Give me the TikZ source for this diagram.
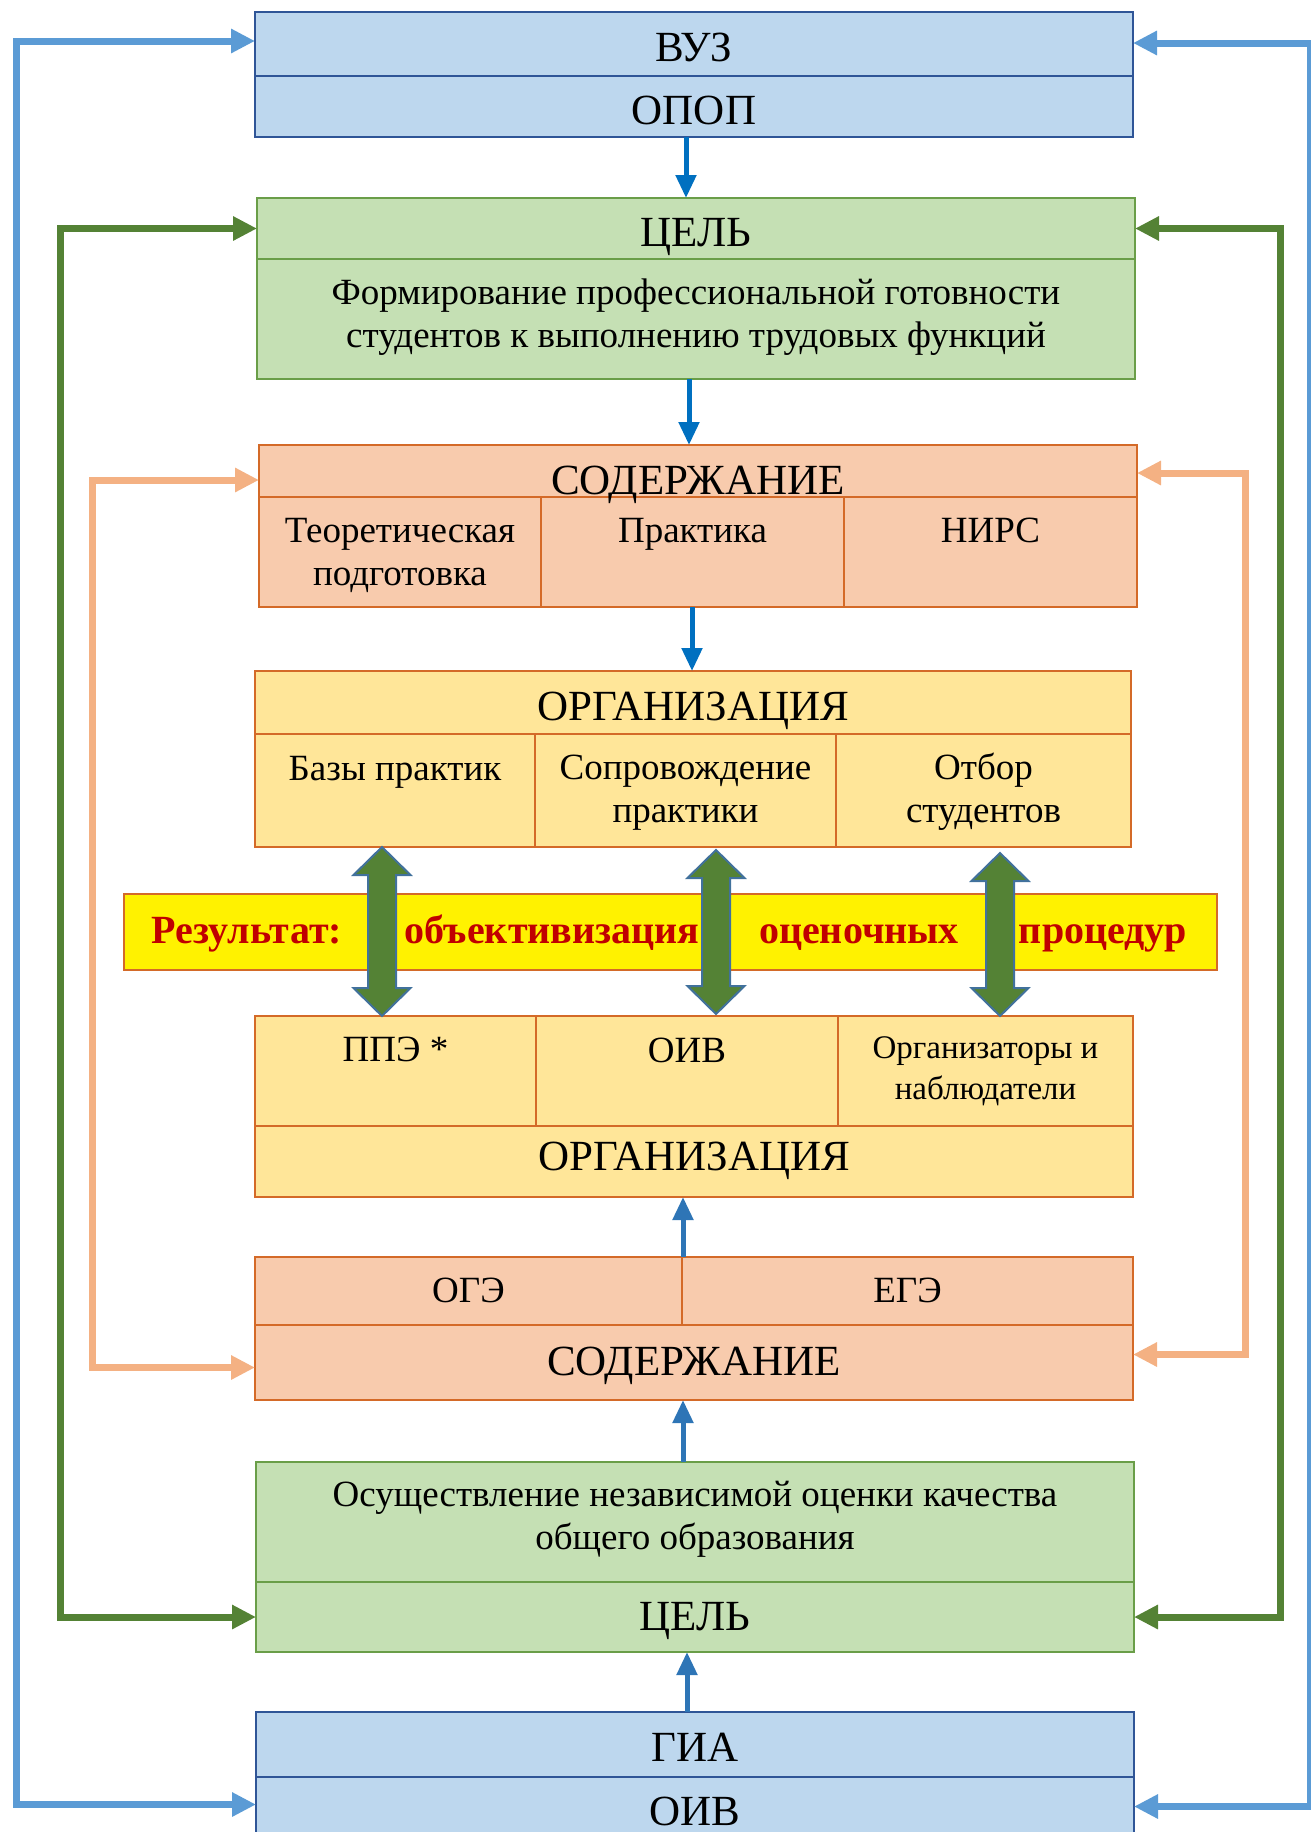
\documentclass[tikz,border=0pt]{standalone}
\usepackage{fontspec}
\setmainfont{Liberation Serif}
\usetikzlibrary{fit,calc,arrows.meta}
\definecolor{cBlueFill}{HTML}{BDD7EE}
\definecolor{cBlueLine}{HTML}{2F5597}
\definecolor{cGreenFill}{HTML}{C5E0B4}
\definecolor{cGreenLine}{HTML}{6A9E48}
\definecolor{cPeachFill}{HTML}{F8CBAD}
\definecolor{cOrangeLine}{HTML}{D46A28}
\definecolor{cYellowFill}{HTML}{FFE699}
\definecolor{cResRed}{HTML}{C00000}
\definecolor{cFbBlue}{HTML}{5B9BD5}
\definecolor{cFbGreen}{HTML}{548235}
\definecolor{cFbPeach}{HTML}{F4B183}
\definecolor{cConnDark}{HTML}{0070C0}
\definecolor{cConnLight}{HTML}{2E75B6}
\definecolor{cDblLine}{HTML}{41719C}
\newcommand\mydblarrow[2]{%
  \draw[dblarr] (#1) -- ($(#1)+(28.5,28)$) -- ($(#1)+(14,28)$) -- ($(#2)+(14,-28)$) -- ($(#2)+(28.5,-28)$) -- (#2) -- ($(#2)+(-28.5,-28)$) -- ($(#2)+(-14,-28)$) -- ($(#1)+(-14,28)$) -- ($(#1)+(-28.5,28)$) -- cycle;}
\begin{document}
\begin{tikzpicture}[x=1pt,y=-1pt,
  bx/.style={inner sep=0pt, outer sep=0pt, line width=1.5pt},
  bluebox/.style={bx, draw=cBlueLine, fill=cBlueFill},
  greenbox/.style={bx, draw=cGreenLine, fill=cGreenFill},
  peachbox/.style={bx, draw=cOrangeLine, fill=cPeachFill},
  yellowbox/.style={bx, draw=cOrangeLine, fill=cYellowFill},
  resbox/.style={bx, draw=cOrangeLine, fill=yellow},
  hd/.style={font=\fontsize{43}{50}\selectfont, anchor=base, inner sep=0pt},
  bd/.style={font=\fontsize{37}{43}\selectfont, anchor=base, inner sep=0pt, align=center},
  sm/.style={font=\fontsize{33}{41}\selectfont, anchor=base, inner sep=0pt, align=center},
  res/.style={font=\bfseries\fontsize{40}{48}\selectfont, text=cResRed, anchor=base, inner sep=0pt},
  fb/.style={line width=7pt, line join=miter, {Triangle[length=24pt,width=23pt]}-{Triangle[length=24pt,width=23pt]}},
  fbB/.style={fb, draw=cFbBlue},
  fbG/.style={fb, draw=cFbGreen},
  fbP/.style={fb, draw=cFbPeach},
  connD/.style={line width=5pt, draw=cConnDark, -{Triangle[length=23pt,width=20pt]}},
  connL/.style={line width=5pt, draw=cConnLight, -{Triangle[length=23pt,width=20pt]}},
  dblarr/.style={fill=cFbGreen, draw=cDblLine, line width=2pt, line join=miter}
]
\useasboundingbox (0,0) rectangle (1311,1832);

% ---- ВУЗ / ОПОП
\node[bluebox, fit={(255,12) (1133,76)}] (vuz) {};
\node[bluebox, fit={(255,76) (1133,137)}] (opop) {};
\node[hd] (tvuz) at (vuz.center |- 0,61) {ВУЗ};
\node[hd] (topop) at (opop.center |- 0,124) {ОПОП};

% ---- ЦЕЛЬ (top)
\node[greenbox, fit={(257,198) (1135,259)}] (celh) {};
\node[greenbox, fit={(257,259) (1135,379)}] (celt) {};
\node[hd] (tcelh) at (celh.center |- 0,246) {ЦЕЛЬ};
\node[bd] (tcelt) at (celt.center |- 0,347) {Формирование профессиональной готовности\\студентов к выполнению трудовых функций};

% ---- СОДЕРЖАНИЕ (top)
\node[peachbox, fit={(259,445) (1137,497)}] (soh) {};
\node[peachbox, fit={(259,497) (541,607)}] (teor) {};
\node[peachbox, fit={(541,497) (844,607)}] (prak) {};
\node[peachbox, fit={(844,497) (1137,607)}] (nirs) {};
\node[hd] (tsoh) at (soh.center |- 0,494) {СОДЕРЖАНИЕ};
\node[bd] (tteor) at (teor.center |- 0,585) {Теоретическая\\подготовка};
\node[bd] (tprak) at (prak.center |- 0,542) {Практика};
\node[bd] (tnirs) at (nirs.center |- 0,542) {НИРС};

% ---- ОРГАНИЗАЦИЯ (top)
\node[yellowbox, fit={(255,671) (1131,734)}] (orgh) {};
\node[yellowbox, fit={(255,734) (535,847)}] (baz) {};
\node[yellowbox, fit={(535,734) (836,847)}] (sopr) {};
\node[yellowbox, fit={(836,734) (1131,847)}] (otb) {};
\node[hd] (torgh) at (orgh.center |- 0,720) {ОРГАНИЗАЦИЯ};
\node[bd] (tbaz) at (baz.center |- 0,780) {Базы практик};
\node[bd] (tsopr) at (sopr.center |- 0,822) {Сопровождение\\практики};
\node[bd] (totb) at (otb.center |- 0,822) {Отбор\\студентов};

% ---- Result bar
\node[resbox, fit={(124,894) (1217,970)}] (resbar) {};
\node[res] (r1) at (247,943) {Результат:};
\node[res] (r2) at (552,943) {объективизация};
\node[res] (r3) at (859,943) {оценочных};
\node[res] (r4) at (1103,943) {процедур};

% ---- ОРГАНИЗАЦИЯ (bottom)
\node[yellowbox, fit={(255,1016) (536,1126)}] (ppe) {};
\node[yellowbox, fit={(536,1016) (838,1126)}] (oivc) {};
\node[yellowbox, fit={(838,1016) (1133,1126)}] (orgn) {};
\node[yellowbox, fit={(255,1126) (1133,1197)}] (orgh2) {};
\node[bd] (tppe) at (ppe.center |- 0,1061) {ППЭ *};
\node[bd] (toivc) at (oivc.center |- 0,1062) {ОИВ};
\node[sm] (torgn) at (orgn.center |- 0,1099) {Организаторы и\\наблюдатели};
\node[hd] (torgh2) at (orgh2.center |- 0,1170) {ОРГАНИЗАЦИЯ};

% ---- ОГЭ / ЕГЭ / СОДЕРЖАНИЕ (bottom)
\node[peachbox, fit={(255,1257) (682,1325)}] (oge) {};
\node[peachbox, fit={(682,1257) (1133,1325)}] (ege) {};
\node[peachbox, fit={(255,1325) (1133,1400)}] (soh2) {};
\node[bd] (toge) at (oge.center |- 0,1302) {ОГЭ};
\node[bd] (tege) at (ege.center |- 0,1302) {ЕГЭ};
\node[hd] (tsoh2) at (soh2.center |- 0,1375) {СОДЕРЖАНИЕ};

% ---- ЦЕЛЬ (bottom)
\node[greenbox, fit={(256,1462) (1134,1582)}] (celt2) {};
\node[greenbox, fit={(256,1582) (1134,1652)}] (celh2) {};
\node[bd] (tcelt2) at (celt2.center |- 0,1549) {Осуществление независимой оценки качества\\общего образования};
\node[hd] (tcelh2) at (celh2.center |- 0,1630) {ЦЕЛЬ};

% ---- ГИА / ОИВ
\node[bluebox, fit={(256,1712) (1134,1777)}] (gia) {};
\node[bluebox, fit={(256,1777) (1134,1836)}] (oiv) {};
\node[hd] (tgia) at (gia.center |- 0,1761) {ГИА};
\node[hd] (toiv) at (oiv.center |- 0,1825) {ОИВ};

% ---- vertical connectors
\draw[connD] (opop.south -| 686,0) -- (celh.north -| 686,0);
\draw[connD] (celt.south -| 689,0) -- (soh.north -| 689,0);
\draw[connD] (prak.south -| 692,0) -- (orgh.north -| 692,0);
\draw[connL] (oge.north -| 683,0) -- (orgh2.south -| 683,0);
\draw[connL] (celt2.north -| 683,0) -- (soh2.south -| 683,0);
\draw[connL] (gia.north -| 687,0) -- (celh2.south -| 687,0);

% ---- double arrows
\coordinate (d1t) at (baz.south -| 382,0);
\coordinate (d1b) at (ppe.north -| 382,0);
\coordinate (d2t) at ([yshift=-3pt]sopr.south -| 716,0);
\coordinate (d2b) at ([yshift=2pt]oivc.north -| 716,0);
\coordinate (d3t) at ([yshift=-6pt]otb.south -| 1000,0);
\coordinate (d3b) at (orgn.north -| 1000,0);
\mydblarrow{d1t}{d1b}
\mydblarrow{d2t}{d2b}
\mydblarrow{d3t}{d3b}

% ---- feedback lines
\draw[fbB] ([yshift=3pt]vuz.west) -- ++(-239,0) |- ([yshift=2pt]oiv.west);
\draw[fbB] ([yshift=1pt]vuz.east) -- ++(177,0) |- (oiv.east);
\draw[fbG] (celh.west) -- ++(-197,0) |- (celh2.west);
\draw[fbG] (celh.east) -- ++(145,0) |- (celh2.east);
\draw[fbP] ([yshift=-9pt]soh.west) -- ++(-167,0) |- ([yshift=-5pt]soh2.west);
\draw[fbP] ([yshift=-2pt]soh.east) -- ++(108,0) |- ([yshift=8pt]soh2.east);
\end{tikzpicture}
\end{document}
